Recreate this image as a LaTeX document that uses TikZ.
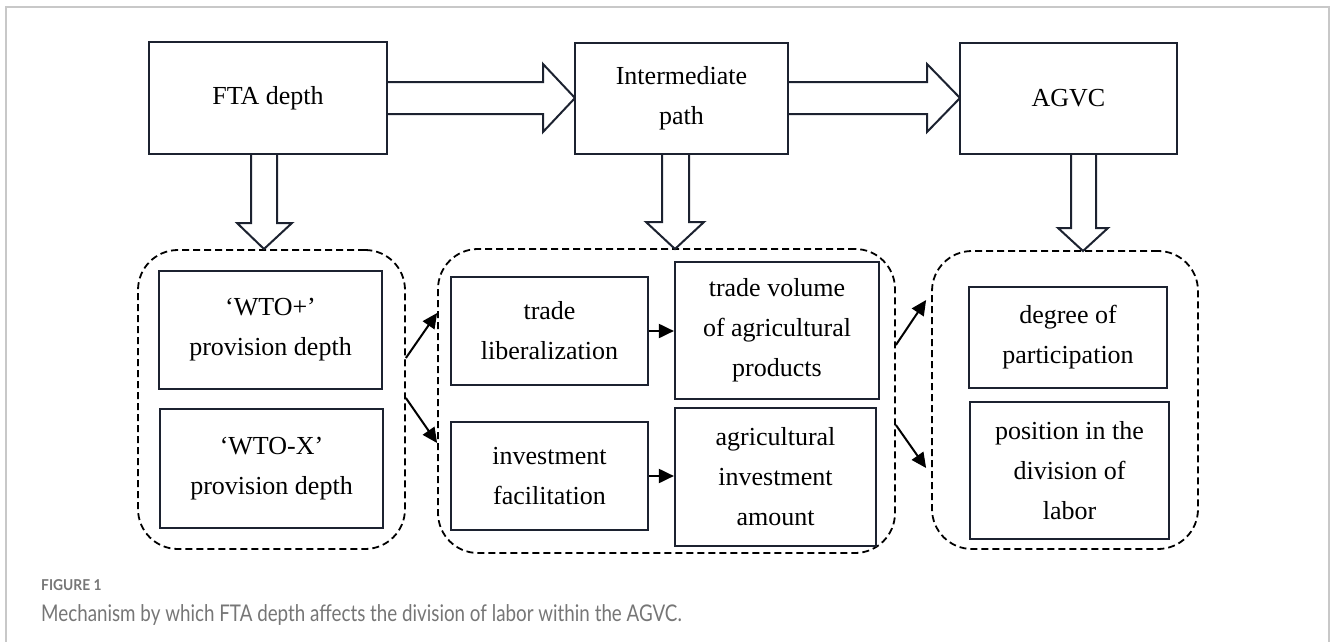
\documentclass[tikz,border=0pt]{standalone}
\usepackage{graphicx}
\usepackage{fontspec}
\setmainfont{Liberation Serif}
\newfontfamily\capfont{Lato}
\usetikzlibrary{arrows.meta,calc}
\definecolor{ink}{HTML}{1C2230}
\definecolor{capgray}{HTML}{767676}
\definecolor{framegray}{HTML}{C8C8C8}
\begin{document}
\begin{tikzpicture}[x=1pt,y=-1pt,
  box/.style={draw=ink,line width=2.2pt,fill=white,inner sep=0pt,align=center,font=\fontsize{26}{40}\selectfont},
  thinbox/.style={box,line width=1.3pt},
  group/.style={draw=black,line width=1.8pt,dash pattern=on 7pt off 4pt,rounded corners=40pt,inner sep=0pt},
  blockarrow/.style={draw=ink,line width=2pt,fill=white,line join=miter},
  arr/.style={draw=black,line width=2pt,-{Triangle[length=15pt,width=14pt]}},
  captext/.style={anchor=base west,inner sep=0pt,text=capgray},
]
\useasboundingbox (0,0) rectangle (1330,642);
% frame
\draw[framegray,line width=1.5pt] (6,642) -- (6,7) -- (1329,7) -- (1329,642);

% dashed groups
\node[group,minimum width=267pt,minimum height=299pt] (g1) at (271.5,399.5) {};
\node[group,minimum width=457pt,minimum height=304pt] (g2) at (666.5,401) {};
\node[group,minimum width=266pt,minimum height=298pt] (g3) at (1065,400) {};

% anchor points of the top boxes
\coordinate (ftaE) at (387,98);
\coordinate (midW) at (575,98);
\coordinate (midE) at (788,98);
\coordinate (agvcW) at (960,98);

% horizontal block arrows
\draw[blockarrow] ([yshift=16pt]ftaE) -- ([xshift=-32pt,yshift=16pt]midW) -- ([xshift=-32pt,yshift=34pt]midW) -- (midW) -- ([xshift=-32pt,yshift=-34pt]midW) -- ([xshift=-32pt,yshift=-16pt]midW) -- ([yshift=-16pt]ftaE);
\draw[blockarrow] ([yshift=16pt]midE) -- ([xshift=-33pt,yshift=16pt]agvcW) -- ([xshift=-33pt,yshift=34pt]agvcW) -- (agvcW) -- ([xshift=-33pt,yshift=-34pt]agvcW) -- ([xshift=-33pt,yshift=-16pt]agvcW) -- ([yshift=-16pt]midE);

% down block arrows
\coordinate (ftaS) at (268,154);
\coordinate (midS) at (681.5,154);
\coordinate (agvcS) at (1068.5,154);
\draw[blockarrow] ([xshift=-17pt]ftaS) -- ++(0,69) -- ++(-14,0) -- ++(27,26) -- ++(28,-26) -- ++(-15,0) -- ++(0,-69);
\draw[blockarrow] ([xshift=-19.5pt]midS) -- ++(0,68) -- ++(-16,0) -- ++(29,27) -- ++(29,-27) -- ++(-15,0) -- ++(0,-68);
\draw[blockarrow] ([xshift=2.5pt]agvcS) -- ++(0,74) -- ++(-13,0) -- ++(25,23) -- ++(25,-23) -- ++(-12,0) -- ++(0,-74);

\node[box,minimum width=238pt,minimum height=112pt] (fta) at (268,98) {FTA depth};
\node[box,minimum width=213pt,minimum height=111pt] (mid) at (681.5,98.5) {Intermediate\\path};
\node[box,minimum width=217pt,minimum height=111pt] (agvc) at (1068.5,98.5) {AGVC};

% inner boxes
\node[box,minimum width=223pt,minimum height=118pt] (wtoplus) at (270.5,330) {‘WTO+’\\provision depth};
\node[thinbox,minimum width=223pt,minimum height=119pt] (wtox) at (271.5,468.5) {‘WTO-X’\\provision depth};
\node[box,minimum width=197pt,minimum height=108pt] (tradelib) at (549.5,331) {trade\\liberalization};
\node[box,minimum width=197pt,minimum height=108pt] (investfac) at (549.5,476) {investment\\facilitation};
\node[box,minimum width=204pt,minimum height=137pt] (tradevol) at (777,330.5) {trade volume\\of agricultural\\products};
\node[box,minimum width=201pt,minimum height=138pt] (agriinv) at (775.5,477) {agricultural\\investment\\amount};
\node[box,minimum width=198pt,minimum height=101pt] (degree) at (1068,337.5) {degree of\\participation};
\node[box,minimum width=199pt,minimum height=137pt] (position) at (1069.5,470.5) {position in the\\division of\\labor};

% small arrows
\draw[arr] (tradelib.east) -- (tradelib.east -| tradevol.west);
\draw[arr] (investfac.east) -- (investfac.east -| agriinv.west);
\draw[arr] ([yshift=41.5pt]g1.east) -- ([yshift=88pt]g2.west);
\draw[arr] ([yshift=1.5pt]g1.east) -- ([yshift=-42pt]g2.west);
\draw[arr] ([yshift=56pt]g2.east) -- ([xshift=-5pt,yshift=100pt]g3.west);
\draw[arr] ([yshift=-24pt]g2.east) -- ([xshift=-5pt,yshift=-68pt]g3.west);

% caption
\node[captext,font=\capfont\bfseries\fontsize{15}{18}\selectfont] (figlabel) at (41,590) {\scalebox{0.92}[1]{FIGURE 1}};
\node[captext,font=\capfont\fontsize{23}{27}\selectfont] (caption) at (41,621) {\scalebox{0.817}[1]{Mechanism by which FTA depth affects the division of labor within the AGVC.}};
\end{tikzpicture}
\end{document}
